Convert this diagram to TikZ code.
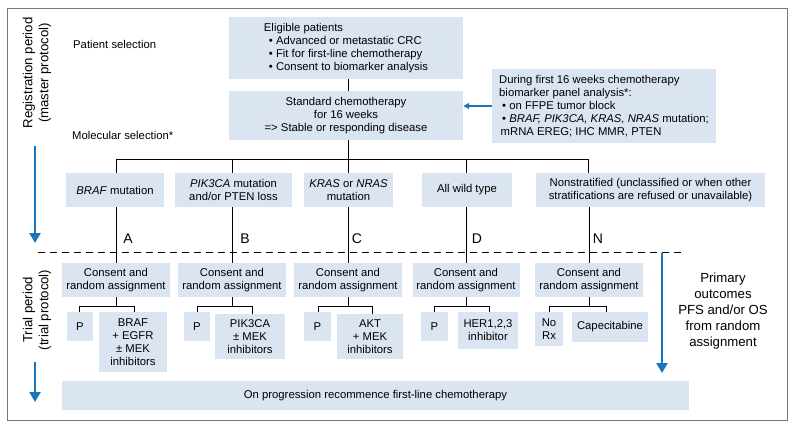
\documentclass[tikz,border=0pt]{standalone}
\usepackage{fontspec}
\setmainfont{Liberation Sans}
\usetikzlibrary{arrows.meta}
\definecolor{boxc}{RGB}{219,228,241}
\definecolor{arrc}{RGB}{26,117,187}
\definecolor{framec}{RGB}{120,120,120}
\begin{document}
\begin{tikzpicture}[x=1pt,y=-1pt,
  box/.style={fill=boxc, inner sep=0pt, align=center, font=\fontsize{11.3}{13}\selectfont},
  lbl/.style={inner sep=0pt, align=left, font=\fontsize{11.3}{13}\selectfont},
  letter/.style={inner sep=0pt, font=\fontsize{14}{16}\selectfont},
  side/.style={inner sep=0pt, align=center, font=\fontsize{13.2}{16}\selectfont},
  conn/.style={draw=black, line width=0.9pt},
  bigarrow/.style={draw=arrc, line width=2.6pt, -{Triangle[width=11pt,length=10pt]}},
  smallarrow/.style={draw=arrc, line width=1.5pt, -{Triangle[width=6pt,length=6pt]}}]
\useasboundingbox (0,0) rectangle (800,425);
\draw[framec, line width=0.9pt] (7,8) rectangle (787,420);

% top boxes
\node[box, minimum width=234pt, minimum height=62pt, align=left] (elig) at (346,48)
 {Eligible patients\\
  \hspace*{5pt}• Advanced or metastatic CRC\\
  \hspace*{5pt}• Fit for first-line chemotherapy\\
  \hspace*{5pt}• Consent to biomarker analysis};
\node[box, minimum width=234pt, minimum height=49pt] (chemo) at (346,115.5)
 {Standard chemotherapy\\for 16 weeks\\={}> Stable or responding disease};
\node[box, minimum width=224pt, minimum height=74pt, align=left] (bio) at (604,106)
 {During first 16 weeks chemotherapy\\
  biomarker panel analysis*:\\
  \hspace*{3pt}• on FFPE tumor block\\
  \hspace*{3pt}• \textit{BRAF, PIK3CA, KRAS, NRAS} mutation;\\
  \hspace*{1.5pt}mRNA EREG; IHC MMR, PTEN};

% category boxes
\node[box, minimum width=98pt, minimum height=34pt] (braf) at (115,190) {\textit{BRAF} mutation};
\node[box, minimum width=117pt, minimum height=34pt] (pik) at (233.5,190) {\textit{PIK3CA} mutation\\and/or PTEN loss};
\node[box, minimum width=89pt, minimum height=34pt] (kras) at (348.5,190) {\textit{KRAS} or \textit{NRAS}\\mutation};
\node[box, minimum width=90pt, minimum height=34pt] (wild) at (467,190) {All wild type};
\node[box, minimum width=229pt, minimum height=34pt] (nons) at (650.5,190) {Nonstratified (unclassified or when other\\stratifications are refused or unavailable)};

% consent boxes
\node[box, minimum width=108pt, minimum height=34pt] (consA) at (116,280) {Consent and\\random assignment};
\node[box, minimum width=108pt, minimum height=34pt] (consB) at (232,280) {Consent and\\random assignment};
\node[box, minimum width=108pt, minimum height=34pt] (consC) at (348,280) {Consent and\\random assignment};
\node[box, minimum width=107pt, minimum height=34pt] (consD) at (466,280) {Consent and\\random assignment};
\node[box, minimum width=108pt, minimum height=34pt] (consN) at (589,280) {Consent and\\random assignment};

% treatment boxes
\node[box, minimum width=26pt, minimum height=29pt] (pA) at (80,326.5) {P};
\node[box, minimum width=68pt, minimum height=60pt] (dA) at (133,342) {BRAF\\+ EGFR\\± MEK\\inhibitors};
\node[box, minimum width=26pt, minimum height=29pt] (pB) at (197,326.5) {P};
\node[box, minimum width=70pt, minimum height=45pt] (dB) at (250,336.5) {PIK3CA\\± MEK\\inhibitors};
\node[box, minimum width=27pt, minimum height=29pt] (pC) at (317.5,326.5) {P};
\node[box, minimum width=66pt, minimum height=45pt] (dC) at (370,336.5) {AKT\\+ MEK\\inhibitors};
\node[box, minimum width=27pt, minimum height=29pt] (pD) at (434.5,326.5) {P};
\node[box, minimum width=60pt, minimum height=37pt] (dD) at (488,330.5) {HER1,2,3\\inhibitor};
\node[box, minimum width=28pt, minimum height=34pt] (noRx) at (549,329) {No\\Rx};
\node[box, minimum width=76pt, minimum height=30pt] (cape) at (610,327) {Capecitabine};

\node[box, minimum width=627pt, minimum height=29pt] (prog) at (375.5,395.5) {On progression recommence first-line chemotherapy};

% labels
\node[lbl, anchor=west] (patsel) at (73,44) {Patient selection};
\node[lbl, anchor=west] (molsel) at (72,135) {Molecular selection*};
\node[side, rotate=90] (reg) at (37,73) {Registration period\\(master protocol)};
\node[side, rotate=90] (trial) at (37,310) {Trial period\\(trial protocol)};
\node[side] (prim) at (723,311) {Primary\\outcomes\\PFS and/or OS\\from random\\assignment};

\node[letter] (lA) at (128,239) {A};
\node[letter] (lB) at (245,239) {B};
\node[letter] (lC) at (357,239) {C};
\node[letter] (lD) at (477,239) {D};
\node[letter] (lN) at (598,239) {N};

% connectors
\coordinate (busL) at (116,159);
\coordinate (busR) at (588,159);
\draw[conn] (elig.south -| 348,0) -- (chemo.north -| 348,0);
\draw[conn] (chemo.south -| 348,0) -- (busL -| 348,0);
\draw[conn] (busL) -- (busR);
\draw[conn] (busL) -- (braf.north -| busL);
\draw[conn] (232,159) -- (pik.north -| 232,0);
\draw[conn] (348,159) -- (kras.north -| 348,0);
\draw[conn] (466,159) -- (wild.north -| 466,0);
\draw[conn] (busR) -- (nons.north -| busR);
\draw[conn] (braf.south -| consA) -- (consA.north);
\draw[conn] (pik.south -| consB) -- (consB.north);
\draw[conn] (kras.south -| consC) -- (consC.north);
\draw[conn] (wild.south -| consD) -- (consD.north);
\draw[conn] (nons.south -| consN) -- (consN.north);

\draw[conn] (consA.south) -- ++(0,9) coordinate (jA);
\draw[conn] (pA.north -| 79,0) |- (jA) -| (dA.north -| 134,0);
\draw[conn] (consB.south) -- ++(0,9) coordinate (jB);
\draw[conn] (pB.north) |- (jB) -| (dB.north -| 252,0);
\draw[conn] (consC.south) -- ++(0,9) coordinate (jC);
\draw[conn] (pC.north -| 318,0) |- (jC) -| (dC.north -| 372,0);
\draw[conn] (consD.south) -- ++(0,9) coordinate (jD);
\draw[conn] (pD.north) |- (jD) -| (dD.north -| 489,0);
\draw[conn] (consN.south) -- ++(0,9) coordinate (jN);
\draw[conn] (noRx.north) |- (jN) -| (cape.north -| 606,0);

% dashed separator
\coordinate (dashL) at (38,252);
\coordinate (dashR) at (682,252);
\draw[line width=0.9pt, dash pattern=on 7pt off 5pt] (dashL) -- (dashR);

% blue arrows
\draw[smallarrow] (bio.west) -- (chemo.east |- bio.west);
\coordinate (a1s) at (35,146); \coordinate (a1e) at (35,243);
\coordinate (a2s) at (35,362); \coordinate (a2e) at (35,402);
\coordinate (a3s) at (662,253); \coordinate (a3e) at (662,373);
\draw[bigarrow] (a1s) -- (a1e);
\draw[bigarrow] (a2s) -- (a2e);
\draw[bigarrow] (a3s) -- (a3e);
\end{tikzpicture}
\end{document}
